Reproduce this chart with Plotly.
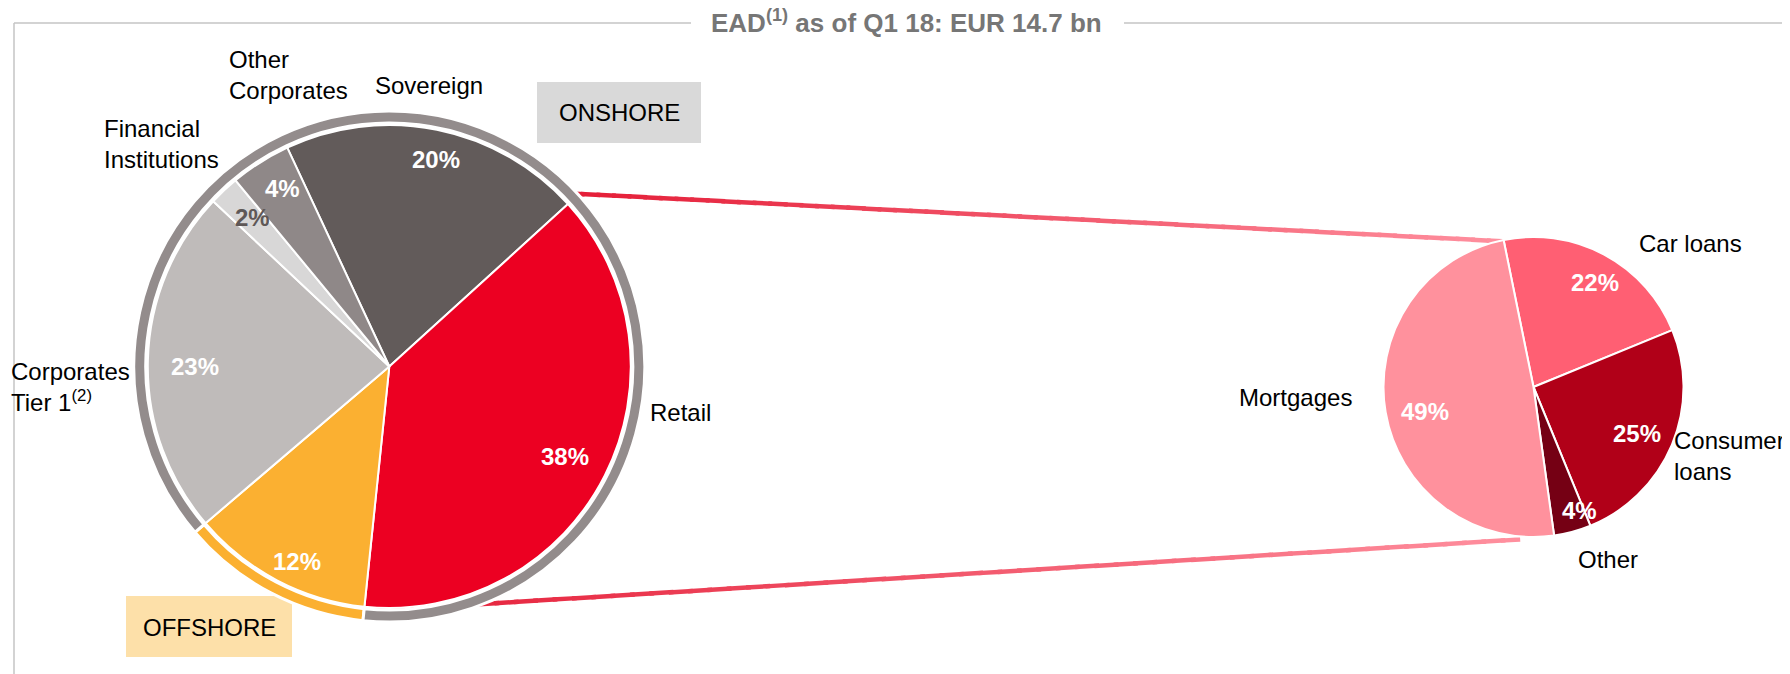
import math
import plotly.graph_objects as go

# browser body margin offsets the figure by 8px; work in window pixels
OFF = 8
W, H = 1790 - OFF, 674 - OFF

# ---------------- data ----------------
title_text = "EAD<sup>(1)</sup> as of Q1 18: EUR 14.7 bn"
ead_categories = ["Sovereign", "Retail", "Offshore", "Corporates Tier 1",
                  "Financial Institutions", "Other Corporates"]
ead_values = [20, 38, 12, 23, 2, 4]
ead_segment = ["Onshore", "Onshore", "Offshore", "Onshore", "Onshore", "Onshore"]
ead_labels = ["Sovereign", "Retail", "", "Corporates<br>Tier 1<sup>(2)</sup>",
              "Financial<br>Institutions", "Other<br>Corporates"]
retail_categories = ["Car loans", "Consumer loans", "Other", "Mortgages"]
retail_labels = ["Car loans", "Consumer<br>loans", "Other", "Mortgages"]
retail_values = [22, 25, 4, 49]
segment_names = ["Offshore", "Onshore"]
segment_tags = ["OFFSHORE", "ONSHORE"]

# ---------------- styles ----------------
FONT = "Liberation Sans, Arial, sans-serif"
ead_colors = ["#625b5a", "#ec0022", "#fbb031", "#bfbbba", "#d8d7d7", "#8f8888"]
ead_txt_colors = ["white", "white", "white", "white", "#5f5857", "white"]
ead_txt_r = [0.881, 0.823, 0.898, 0.808, 0.843, 0.865]
ead_txt_nudge = [1.5, 0.3, -2.4, -1.4, 0.6, 1.3]
retail_colors = ["#ff5f73", "#b10018", "#750014", "#ff919d"]
retail_txt_r = [0.813, 0.764, 0.882, 0.75]
retail_txt_nudge = [2.5, 1.3, -5.5, -3.1]
ring_colors = ["#fbb031", "#938c8c"]

L_CX, L_CY, L_R = 389.3, 366.5, 241.5
L_ROT = -25
R_CX, R_CY, R_R = 1533.5, 387.0, 150.0
R_ROT = -11.5
RING_OUT, RING_IN = 255.5, 243.5


def PX(x):
    return (x - OFF) / W


def PY(y):
    return 1 - (y - OFF) / H


def domain(cx, cy, r):
    return dict(x=[PX(cx - r), PX(cx + r)], y=[PY(cy + r), PY(cy - r)])


def bounds(values, rot):
    tot = float(sum(values))
    out, c = [rot], 0.0
    for v in values:
        c += v
        out.append(rot + c / tot * 360.0)
    return out


def polar(cx, cy, r, ang):
    a = math.radians(ang)
    return cx + r * math.sin(a), cy - r * math.cos(a)


def hexrgb(h):
    h = h.lstrip("#")
    return tuple(int(h[i:i + 2], 16) for i in (0, 2, 4))


fig = go.Figure()

# ring showing onshore / offshore split
l_b = bounds(ead_values, L_ROT)
seg_vals = [sum(v for v, s in zip(ead_values, ead_segment) if s == n) for n in segment_names]
off_idx = ead_segment.index("Offshore")
fig.add_trace(go.Pie(
    values=seg_vals, labels=segment_names, sort=False, direction="clockwise",
    rotation=l_b[off_idx], hole=RING_IN / RING_OUT,
    marker=dict(colors=ring_colors, line=dict(color="white", width=3)),
    textinfo="none", hoverinfo="skip", showlegend=False,
    domain=domain(L_CX, L_CY, RING_OUT)))

# main EAD pie
fig.add_trace(go.Pie(
    values=ead_values, labels=ead_categories, sort=False, direction="clockwise",
    rotation=L_ROT, marker=dict(colors=ead_colors, line=dict(color="white", width=2)),
    textinfo="none", hoverinfo="label+percent", showlegend=False,
    domain=domain(L_CX, L_CY, L_R)))

# retail breakdown pie
fig.add_trace(go.Pie(
    values=retail_values, labels=retail_categories, sort=False, direction="clockwise",
    rotation=R_ROT, marker=dict(colors=retail_colors, line=dict(color="white", width=2)),
    textinfo="none", hoverinfo="label+percent", showlegend=False,
    domain=domain(R_CX, R_CY, R_R)))

ann = []
shapes = []


def text(x, y, s, size=24, color="black", bold=False, xanchor="left", align="left"):
    if bold:
        s = "<b>" + s + "</b>"
    ann.append(dict(x=PX(x), y=PY(y), xref="paper", yref="paper", text=s,
                    showarrow=False, xanchor=xanchor, yanchor="middle", align=align,
                    font=dict(family=FONT, size=size, color=color)))


# percent labels, placed near slice mid-angles
for i, v in enumerate(ead_values):
    mid = (l_b[i] + l_b[i + 1]) / 2 + ead_txt_nudge[i]
    x, y = polar(L_CX, L_CY, (L_R - 1) * ead_txt_r[i], mid)
    text(x, y, "%d%%" % v, color=ead_txt_colors[i], bold=True, xanchor="center", align="center")
r_b = bounds(retail_values, R_ROT)
for i, v in enumerate(retail_values):
    mid = (r_b[i] + r_b[i + 1]) / 2 + retail_txt_nudge[i]
    x, y = polar(R_CX, R_CY, (R_R - 1) * retail_txt_r[i], mid)
    text(x, y, "%d%%" % v, color="white", bold=True, xanchor="center", align="center")

# category labels
text(227, 75, ead_labels[5])
text(373, 85, ead_labels[0])
text(102, 144, ead_labels[4])
text(9, 387, ead_labels[3])
text(648, 412, ead_labels[1])
text(1237, 397, retail_labels[3])
text(1637, 243, retail_labels[0])
text(1672, 456, retail_labels[1])
text(1576, 559, retail_labels[2])

# segment tags
shapes.append(dict(type="rect", xref="paper", yref="paper", x0=PX(537), x1=PX(701),
                   y0=PY(143), y1=PY(82), fillcolor="#d9d9d9", line=dict(width=0),
                   layer="below"))
shapes.append(dict(type="rect", xref="paper", yref="paper", x0=PX(126), x1=PX(292),
                   y0=PY(657), y1=PY(596), fillcolor="#fde0a9", line=dict(width=0),
                   layer="below"))
text(619, 113, segment_tags[1], xanchor="center", align="center")
text(209, 627, segment_tags[0], xanchor="center", align="center")

# title with rules
text(906, 22, title_text, size=26, color="#767676", bold=True, xanchor="center", align="center")
rule = dict(color="#c4c4c4", width=1.5)
shapes.append(dict(type="line", xref="paper", yref="paper", x0=PX(14), x1=PX(691),
                   y0=PY(23), y1=PY(23), line=rule, layer="below"))
shapes.append(dict(type="line", xref="paper", yref="paper", x0=PX(1124), x1=1,
                   y0=PY(23), y1=PY(23), line=rule, layer="below"))
shapes.append(dict(type="line", xref="paper", yref="paper", x0=PX(14), x1=PX(14),
                   y0=0, y1=PY(23), line=rule, layer="below"))

# gradient connectors from the retail slice to the breakdown pie
c0, c1 = hexrgb("#e41c36"), hexrgb("#ff909f")
ret_idx = ead_categories.index("Retail")
pairs = [
    (polar(L_CX, L_CY, 247, l_b[ret_idx] - 2.3), polar(R_CX, R_CY, 149, r_b[0] - 0.5)),
    (polar(L_CX, L_CY, 247, l_b[ret_idx + 1] + 1.1), polar(R_CX, R_CY, 153, 185)),
]
N = 60
for (xa, ya), (xb, yb) in pairs:
    for k in range(N):
        t0, t1 = k / N, (k + 1) / N
        tm = (t0 + t1) / 2
        col = "rgb(%d,%d,%d)" % tuple(round(c0[j] + (c1[j] - c0[j]) * tm) for j in range(3))
        te = min(1.0, t1 + 0.004)
        shapes.append(dict(type="line", xref="paper", yref="paper",
                           x0=PX(xa + (xb - xa) * t0), x1=PX(xa + (xb - xa) * te),
                           y0=PY(ya + (yb - ya) * t0), y1=PY(ya + (yb - ya) * te),
                           line=dict(color=col, width=4.5), layer="below"))

fig.update_layout(width=W, height=H, margin=dict(l=0, r=0, t=0, b=0),
                  paper_bgcolor="white", plot_bgcolor="white", showlegend=False,
                  annotations=ann, shapes=shapes)
fig.write_html("out.html")
